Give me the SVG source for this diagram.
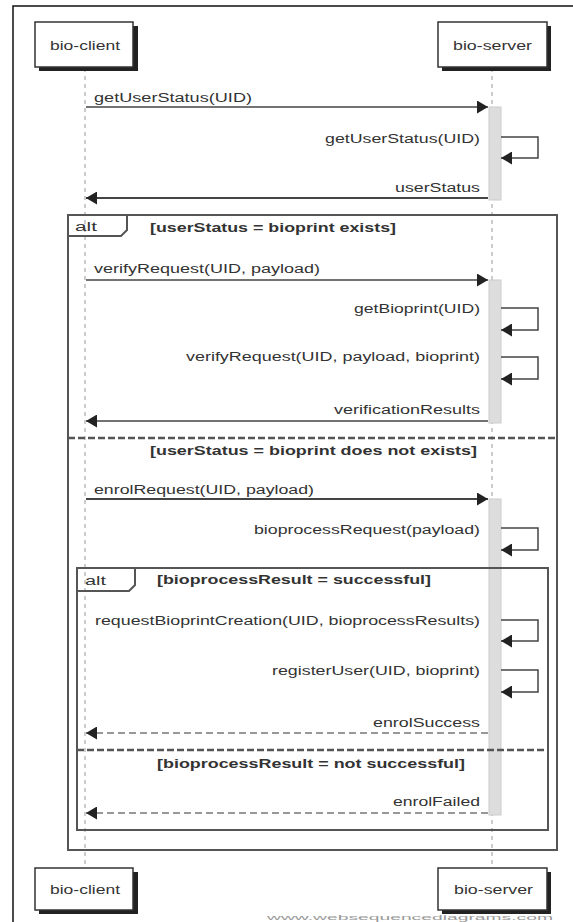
<svg xmlns="http://www.w3.org/2000/svg" width="573" height="922" viewBox="0 0 573 922">
<defs>
<style>
.lbl{font-family:"Liberation Sans",Arial,sans-serif;font-size:12px;fill:#333}
.cond{font-family:"Liberation Sans",Arial,sans-serif;font-size:12.5px;font-weight:bold;fill:#333}
.pname{font-family:"Liberation Sans",Arial,sans-serif;font-size:12px;fill:#333}
.box{fill:#fff;stroke:#333;stroke-width:1.5}
.shadow{fill:#222}
.life{stroke:#999;stroke-width:1;stroke-dasharray:4 4;fill:none}
.act{fill:#ddd;stroke:#ccc;stroke-width:1}
.msg{stroke:#444;stroke-width:1.5;fill:none}
.ret{stroke:#444;stroke-width:2;fill:none}
.dret{stroke:#777;stroke-width:1.5;stroke-dasharray:7 4;fill:none}
.frame{fill:none;stroke:#555;stroke-width:2}
.sep{stroke:#555;stroke-width:2.5;stroke-dasharray:7 3;fill:none}
</style>
<marker id="ah" markerWidth="11" markerHeight="13" refX="11" refY="6.5" orient="auto" markerUnits="userSpaceOnUse">
<path d="M0,0 L11,6.5 L0,13 Z" fill="#222"/>
</marker>
</defs>
<rect x="13" y="6" width="580" height="940" fill="#fff" stroke="#111" stroke-width="1.5"/>

<g id="lifelines">
<line class="life" x1="85" y1="68" x2="85" y2="868"/>
<line class="life" x1="492" y1="68" x2="492" y2="868"/>
</g>

<g id="participant-bio-client-top">
<rect class="shadow" x="39" y="26" width="99" height="45"/>
<rect class="box" x="35" y="22" width="98" height="45"/>
<text class="pname" x="50" y="50" textLength="70" lengthAdjust="spacingAndGlyphs">bio-client</text>
</g>
<g id="participant-bio-server-top">
<rect class="shadow" x="442" y="26" width="109" height="45"/>
<rect class="box" x="438" y="22" width="109" height="45"/>
<text class="pname" x="453" y="50" textLength="79" lengthAdjust="spacingAndGlyphs">bio-server</text>
</g>
<g id="participant-bio-client-bottom">
<rect class="shadow" x="39" y="872" width="99" height="42"/>
<rect class="box" x="35" y="868" width="98" height="42"/>
<text class="pname" x="50" y="894" textLength="70" lengthAdjust="spacingAndGlyphs">bio-client</text>
</g>
<g id="participant-bio-server-bottom">
<rect class="shadow" x="442" y="872" width="109" height="42"/>
<rect class="box" x="438" y="868" width="109" height="42"/>
<text class="pname" x="454" y="894" textLength="79" lengthAdjust="spacingAndGlyphs">bio-server</text>
</g>

<g id="activations">
<rect class="act" x="489" y="107" width="12" height="93"/>
<rect class="act" x="489" y="280" width="12" height="143"/>
<rect class="act" x="489" y="499" width="12" height="316"/>
</g>

<g id="connectors">
<line class="msg" x1="86" y1="107" x2="488" y2="107" marker-end="url(#ah)"/>
<polyline class="msg" points="501,137 538,137 538,158 501,158" marker-end="url(#ah)"/>
<line class="ret" x1="488" y1="198" x2="86" y2="198" marker-end="url(#ah)"/>
<line class="msg" x1="86" y1="280" x2="488" y2="280" marker-end="url(#ah)"/>
<polyline class="msg" points="501,308 538,308 538,330 501,330" marker-end="url(#ah)"/>
<polyline class="msg" points="501,357 538,357 538,379 501,379" marker-end="url(#ah)"/>
<line class="msg" x1="488" y1="421" x2="86" y2="421" marker-end="url(#ah)"/>
<line class="ret" x1="86" y1="499" x2="488" y2="499" marker-end="url(#ah)"/>
<polyline class="msg" points="501,528 538,528 538,550 501,550" marker-end="url(#ah)"/>
<polyline class="msg" points="501,620 538,620 538,641 501,641" marker-end="url(#ah)"/>
<polyline class="msg" points="501,670 538,670 538,692 501,692" marker-end="url(#ah)"/>
<line class="dret" x1="488" y1="733" x2="86" y2="733" marker-end="url(#ah)"/>
<line class="dret" x1="488" y1="813" x2="86" y2="813" marker-end="url(#ah)"/>
</g>

<g id="labels">
<text class="lbl" x="94" y="102" textLength="158" lengthAdjust="spacingAndGlyphs">getUserStatus(UID)</text>
<text class="lbl" x="325" y="143" textLength="155" lengthAdjust="spacingAndGlyphs">getUserStatus(UID)</text>
<text class="lbl" x="395" y="192" textLength="85" lengthAdjust="spacingAndGlyphs">userStatus</text>
<text class="lbl" x="94" y="273" textLength="226" lengthAdjust="spacingAndGlyphs">verifyRequest(UID, payload)</text>
<text class="lbl" x="354" y="313" textLength="126" lengthAdjust="spacingAndGlyphs">getBioprint(UID)</text>
<text class="lbl" x="186" y="361" textLength="294" lengthAdjust="spacingAndGlyphs">verifyRequest(UID, payload, bioprint)</text>
<text class="lbl" x="334" y="414" textLength="146" lengthAdjust="spacingAndGlyphs">verificationResults</text>
<text class="lbl" x="94" y="494" textLength="220" lengthAdjust="spacingAndGlyphs">enrolRequest(UID, payload)</text>
<text class="lbl" x="254" y="534" textLength="226" lengthAdjust="spacingAndGlyphs">bioprocessRequest(payload)</text>
<text class="lbl" x="95" y="625" textLength="385" lengthAdjust="spacingAndGlyphs">requestBioprintCreation(UID, bioprocessResults)</text>
<text class="lbl" x="272" y="675" textLength="208" lengthAdjust="spacingAndGlyphs">registerUser(UID, bioprint)</text>
<text class="lbl" x="373" y="727" textLength="107" lengthAdjust="spacingAndGlyphs">enrolSuccess</text>
<text class="lbl" x="393" y="806" textLength="87" lengthAdjust="spacingAndGlyphs">enrolFailed</text>
</g>

<g id="alt-outer">
<rect class="frame" x="68" y="215" width="489" height="635"/>
<path class="frame" d="M68,236 H121 L127,230 V215"/>
<text class="cond" x="75" y="231" textLength="22" lengthAdjust="spacingAndGlyphs" style="font-weight:normal">alt</text>
<text class="cond" x="150" y="232" textLength="246" lengthAdjust="spacingAndGlyphs">[userStatus = bioprint exists]</text>
<line class="sep" x1="68" y1="438" x2="557" y2="438"/>
<text class="cond" x="150" y="455" textLength="327" lengthAdjust="spacingAndGlyphs">[userStatus = bioprint does not exists]</text>
</g>

<g id="alt-inner">
<rect class="frame" x="77" y="568" width="471" height="262"/>
<path class="frame" d="M77,591 H129 L135,585 V568"/>
<text class="cond" x="85" y="585" textLength="21" lengthAdjust="spacingAndGlyphs" style="font-weight:normal">alt</text>
<text class="cond" x="157" y="584" textLength="274" lengthAdjust="spacingAndGlyphs">[bioprocessResult = successful]</text>
<line class="sep" x1="77" y1="750" x2="548" y2="750"/>
<text class="cond" x="157" y="768" textLength="308" lengthAdjust="spacingAndGlyphs">[bioprocessResult = not successful]</text>
</g>

<text x="267" y="920" textLength="286" lengthAdjust="spacingAndGlyphs" style="font-family:'Liberation Sans',Arial,sans-serif;font-size:7px;fill:#999">www.websequencediagrams.com</text>
</svg>
